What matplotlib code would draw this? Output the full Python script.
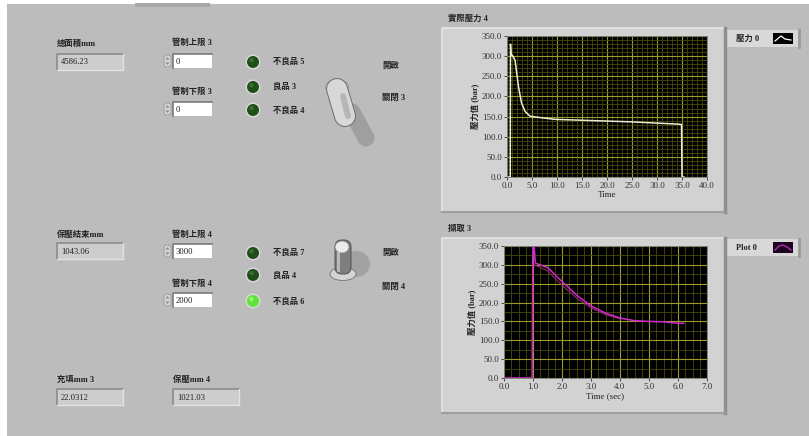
import matplotlib
matplotlib.use('Agg')
import matplotlib.pyplot as plt
from matplotlib.patches import Rectangle, Circle, Ellipse, FancyBboxPatch, Polygon
from matplotlib.ticker import MultipleLocator, FormatStrFormatter

plt.rcParams['font.family'] = ['Liberation Serif', 'Noto Sans CJK TC', 'DejaVu Sans']

# 實際壓力 trace (sec, bar)
t_actual = [0.0, 0.65, 0.7, 0.8, 1.2, 1.6, 1.9, 2.3, 2.9, 3.6, 4.6, 6.3, 9.7,
            14.7, 19.7, 24.7, 29.7, 34.6, 34.9, 35.0, 35.4]
p_actual = [0, 0, 330, 305, 300, 290, 262, 224, 184, 163, 151, 148, 143,
            141, 139, 137, 134, 131, 130, 0, 0]

# 擷取 trace (sec, bar)
t_capture = [0.0, 0.97, 1.0, 1.03, 1.08, 1.1, 1.5, 2.0, 2.5, 3.0, 3.5, 4.0,
             4.5, 5.0, 5.5, 6.0, 6.2]
p_capture = [0, 0, 400, 360, 305, 304, 293, 256, 220, 191, 172, 159,
             152, 150, 149, 145, 145]
t_capture2 = [1.05, 1.5, 2.0, 2.5, 3.0, 3.5, 4.0]
p_capture2 = [300, 284, 246, 212, 186, 168, 157]

# numeric indicators / controls
total_area = '4586.23'
hold_end = '1043.06'
fill_val = '22.0312'
hold_val = '1021.03'
upper3, lower3 = '0', '0'
upper4, lower4 = '3000', '2000'

W, H = 809, 436
BG = '#bcbcbc'
TXT = '#222222'

fig = plt.figure(figsize=(W / 100, H / 100), dpi=100, facecolor='white')
bg = fig.add_axes((0, 0, 1, 1))
bg.set_xlim(0, W)
bg.set_ylim(H, 0)
bg.axis('off')
bg.add_patch(Rectangle((7, 4), W - 7, H - 4, facecolor=BG, edgecolor='none'))
bg.add_patch(Rectangle((135, 3), 75, 4, facecolor='#a9a9a9', edgecolor='none'))


def label(x, y, s, size=6):
    bg.text(x, y, s, fontsize=size, color=TXT, va='center', ha='left', fontweight='bold')


def indicator(x, y, w, h, value):
    bg.add_patch(Rectangle((x, y), w, h, facecolor='#cdcdcd', edgecolor='none'))
    bg.plot([x, x, x + w], [y + h, y, y], color='#8c8c8c', lw=1.2)
    bg.plot([x, x + w, x + w], [y + h, y + h, y], color='#e2e2e2', lw=1)
    bg.text(x + 4, y + h / 2 + 0.5, value, fontsize=6.2, color=TXT, va='center')


def control(x, y, w, h, value):
    # spinner arrows on the left
    bg.add_patch(FancyBboxPatch((x - 9, y + 1), 7, h - 2, boxstyle='round,pad=0,rounding_size=3',
                                facecolor='#d4d4d4', edgecolor='#9a9a9a', lw=0.6))
    bg.add_patch(Polygon([(x - 7.5, y + h / 2 - 1.5), (x - 3.5, y + h / 2 - 1.5), (x - 5.5, y + 3)],
                         facecolor='#8a8a8a', edgecolor='none'))
    bg.add_patch(Polygon([(x - 7.5, y + h / 2 + 1.5), (x - 3.5, y + h / 2 + 1.5), (x - 5.5, y + h - 3)],
                         facecolor='#8a8a8a', edgecolor='none'))
    bg.add_patch(Rectangle((x, y), w, h, facecolor='white', edgecolor='none'))
    bg.plot([x, x, x + w], [y + h, y, y], color='#7a7a7a', lw=1.2)
    bg.text(x + 3, y + h / 2 + 0.5, value, fontsize=6.2, color=TXT, va='center')


def led(x, y, on=False):
    bg.add_patch(Circle((x, y), 7.5, facecolor='#d8d8d8', edgecolor='none'))
    bg.add_patch(Circle((x, y), 6, facecolor='#5fe23a' if on else '#1e4f19', edgecolor='none'))
    bg.add_patch(Circle((x - 1.5, y - 1.8), 2.2, facecolor='#a8ff80' if on else '#3f7a35',
                        edgecolor='none', alpha=0.8))


def px(n):
    # pixel width to points
    return n * 72 / 100


def toggle(x, y, up=True):
    if up:
        # lever leaning down-right, shadow falling further right
        bg.plot([352, 366], [112, 138], color='#9a9a9a', lw=px(17), solid_capstyle='round', alpha=0.85)
        bg.plot([x - 3, x + 5], [y - 11, y + 16], color='#6e6e6e', lw=px(22), solid_capstyle='round')
        bg.plot([x - 3, x + 5], [y - 11, y + 16], color='#d8d8d8', lw=px(20), solid_capstyle='round')
        bg.plot([x + 3, x + 8], [y - 4, y + 16], color='#a8a8a8', lw=px(6), solid_capstyle='round', alpha=0.7)
        bg.add_patch(Ellipse((x - 3, y - 13), 23, 14, facecolor='#f0f0f0', edgecolor='#909090', lw=0.6))
    else:
        bg.add_patch(Ellipse((x + 13, y + 2), 28, 26, facecolor='#9d9d9d', edgecolor='none', alpha=0.85))
        bg.add_patch(Ellipse((x, y + 12), 26, 13, facecolor='#d4d4d4', edgecolor='#7d7d7d', lw=0.7))
        bg.add_patch(FancyBboxPatch((x - 8, y - 22), 16, 34, boxstyle='round,pad=0,rounding_size=7',
                                    facecolor='#7e7e7e', edgecolor='#505050', lw=0.7))
        bg.add_patch(Ellipse((x - 1, y - 15), 14, 12, facecolor='#ececec', edgecolor='#888888', lw=0.6))
        bg.add_patch(Rectangle((x - 6, y - 10), 3, 20, facecolor='#c8c8c8', edgecolor='none', alpha=0.8))


def graph_panel(x0, y0, x1, y1, title):
    bg.add_patch(Rectangle((x0, y0), x1 - x0, y1 - y0, facecolor='#d2d2d2', edgecolor='none'))
    bg.plot([x0, x0, x1], [y1, y0, y0], color='#e6e6e6', lw=1.2)
    bg.plot([x1, x1], [y0, y1], color='#8e8e8e', lw=2.5)
    bg.plot([x0, x1], [y1, y1], color='#9e9e9e', lw=1.5)
    label(x0 + 6, y0 - 9, title)


def legend_box(x, y, name, color, fill, kind):
    bg.add_patch(Rectangle((x, y), 72, 17, facecolor='#d8d8d8', edgecolor='none'))
    bg.plot([x + 72, x + 72], [y, y + 17], color='#9a9a9a', lw=2)
    bg.text(x + 9, y + 8.5, name, fontsize=6, color=TXT, va='center', fontweight='bold')
    bg.add_patch(Rectangle((x + 46, y + 3), 20, 11, facecolor=fill, edgecolor='none'))
    if kind == 'peak':
        bg.plot([x + 48, x + 54, x + 58, x + 64], [y + 11, y + 6, y + 9, y + 10], color=color, lw=0.9)
    else:
        bg.plot([x + 48, x + 52, x + 56, x + 60, x + 64], [y + 11, y + 7, y + 6, y + 8, y + 11],
                color=color, lw=0.9)


# left column
label(57, 44, '總面積mm')
indicator(57, 54, 66, 16, total_area)
label(57, 235, '保壓結束mm')
indicator(57, 243, 66, 16, hold_end)
label(57, 380, '充填mm 3')
indicator(57, 389, 66, 16, fill_val)
label(173, 380, '保壓mm 4')
indicator(173, 389, 66, 16, hold_val)

# limit controls
label(172, 43, '管制上限 3')
control(173, 54, 39, 14, upper3)
label(172, 92, '管制下限 3')
control(173, 102, 39, 14, lower3)
label(172, 235, '管制上限 4')
control(173, 244, 39, 14, upper4)
label(172, 284, '管制下限 4')
control(173, 293, 39, 14, lower4)

# status lamps
led(253, 62)
led(253, 87)
led(253, 110)
label(273, 62, '不良品 5')
label(273, 87, '良品 3')
label(273, 111, '不良品 4')
led(253, 253)
led(253, 275)
led(253, 301, on=True)
label(273, 253, '不良品 7')
label(273, 276, '良品 4')
label(273, 302, '不良品 6')

# switches
toggle(340, 100, up=True)
label(382, 66, '開啟')
label(382, 98, '關閉 3')
toggle(343, 262, up=False)
label(382, 253, '開啟')
label(382, 287, '關閉 4')

# graph frames
graph_panel(442, 28, 725, 212, '實際壓力 4')
graph_panel(442, 238, 725, 413, '擷取 3')
legend_box(727, 30, '壓力 0', 'white', 'black', 'peak')
legend_box(727, 239, 'Plot 0', '#c030c0', '#1e041e', 'wave')


def setup_axes(ax, xmax, xmaj, xmin, ymin_step, xlabel):
    ax.set_facecolor('black')
    ax.set_xlim(0, xmax)
    ax.set_ylim(0, 350)
    ax.xaxis.set_major_locator(MultipleLocator(xmaj))
    ax.xaxis.set_minor_locator(MultipleLocator(xmin))
    ax.yaxis.set_major_locator(MultipleLocator(50))
    ax.yaxis.set_minor_locator(MultipleLocator(ymin_step))
    ax.xaxis.set_major_formatter(FormatStrFormatter('%.1f'))
    ax.yaxis.set_major_formatter(FormatStrFormatter('%.1f'))
    ax.grid(which='minor', color='#4a4a08', lw=0.6)
    ax.grid(which='major', color='#9c9c2a', lw=0.8)
    ax.set_axisbelow(True)
    ax.tick_params(which='major', labelsize=6.5, colors='#333333', length=2, width=0.6, pad=1.5)
    ax.tick_params(which='minor', length=0)
    for s in ax.spines.values():
        s.set_color('#777777')
        s.set_linewidth(0.6)
    ax.set_xlabel(xlabel, fontsize=6.5, color=TXT, labelpad=1)
    ax.set_ylabel('壓力值 (bar)', fontsize=6, color=TXT, labelpad=2, fontweight='bold')


ax1 = fig.add_axes((507 / W, 1 - 177 / H, 200 / W, 141 / H))
setup_axes(ax1, 40, 5, 1, 10, 'Time')
ax1.plot(t_actual, p_actual, color='#ececd8', lw=1.1)

ax2 = fig.add_axes((504 / W, 1 - 378 / H, 203 / W, 132 / H))
setup_axes(ax2, 7, 1, 0.25, 25, 'Time (sec)')
ax2.plot(t_capture2, p_capture2, color='#8a2a6a', lw=0.8)
ax2.plot(t_capture, p_capture, color='#d028d0', lw=1.1)

fig.savefig('out.png', dpi=100, facecolor=fig.get_facecolor())
